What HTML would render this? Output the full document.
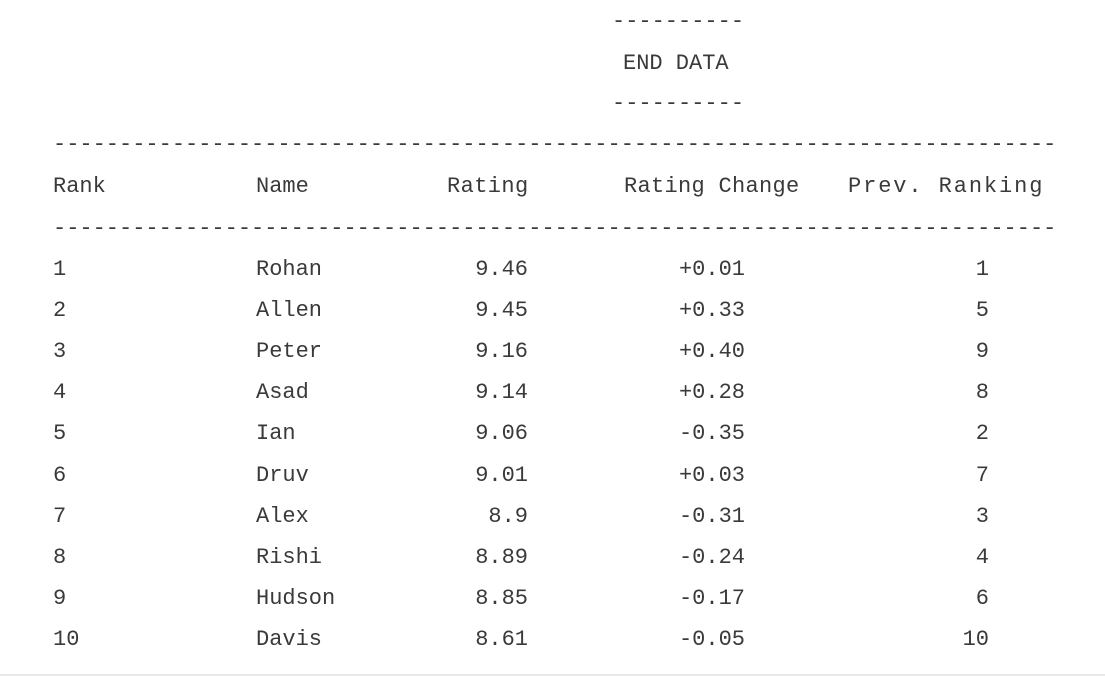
<!DOCTYPE html>
<html><head><meta charset="utf-8">
<style>
html,body{margin:0;padding:0;background:#fff;}
#wrap{position:relative;width:1105px;height:682px;overflow:hidden;font-family:"Liberation Mono","DejaVu Sans Mono",monospace;font-size:22px;color:#3a3a3a;}
.t{position:absolute;white-space:pre;line-height:26px;transform:translateY(-11px);}
.r{text-align:right;}
#bottom{position:absolute;left:0;top:674px;width:1105px;height:2px;background:#e6e8eb;}
</style></head>
<body>
<div id="wrap">
<div class="t" style="left:612px;top:20px">----------</div>
<div class="t" style="left:623px;top:62px">END DATA</div>
<div class="t" style="left:612px;top:102px">----------</div>
<div class="t" style="left:53px;top:143px;width:1004px;overflow:hidden">----------------------------------------------------------------------------</div>
<div class="t" style="left:53px;top:185px">Rank</div>
<div class="t" style="left:256px;top:185px">Name</div>
<div class="t" style="left:447px;top:185px;letter-spacing:0.4px">Rating</div>
<div class="t" style="left:624px;top:185px;letter-spacing:0.3px">Rating Change</div>
<div class="t" style="left:848px;top:185px;letter-spacing:1.9px">Prev. Ranking</div>
<div class="t" style="left:53px;top:227px;width:1004px;overflow:hidden">----------------------------------------------------------------------------</div>
<div id="rows"></div>
<div id="bottom"></div>
</div>
<script>
const ranks=["1","2","3","4","5","6","7","8","9","10"];
const names=["Rohan","Allen","Peter","Asad","Ian","Druv","Alex","Rishi","Hudson","Davis"];
const ratings=["9.46","9.45","9.16","9.14","9.06","9.01","8.9","8.89","8.85","8.61"];
const changes=["+0.01","+0.33","+0.40","+0.28","-0.35","+0.03","-0.31","-0.24","-0.17","-0.05"];
const prevs=["1","5","9","8","2","7","3","4","6","10"];
const wrap=document.getElementById('rows');
function cell(txt,x,y,right,name){
  const d=document.createElement('div');
  d.className='t'+(right?' r':'');
  d.textContent=txt;
  d.style.top=y+'px';
  if(right){d.style.left=(x-200)+'px';d.style.width='200px';}
  else d.style.left=x+'px';
  
  
  wrap.appendChild(d);
}
for(let i=0;i<ranks.length;i++){
  const y=268+i*41.1;
  cell(ranks[i],53,y,false,'rank-cell');
  cell(names[i],256,y,false,'name-cell');
  cell(ratings[i],528,y,true,'rating-cell');
  cell(changes[i],745,y,true,'rating-change-cell');
  cell(prevs[i],989,y,true,'prev-ranking-cell');
}
</script>
</body></html>
